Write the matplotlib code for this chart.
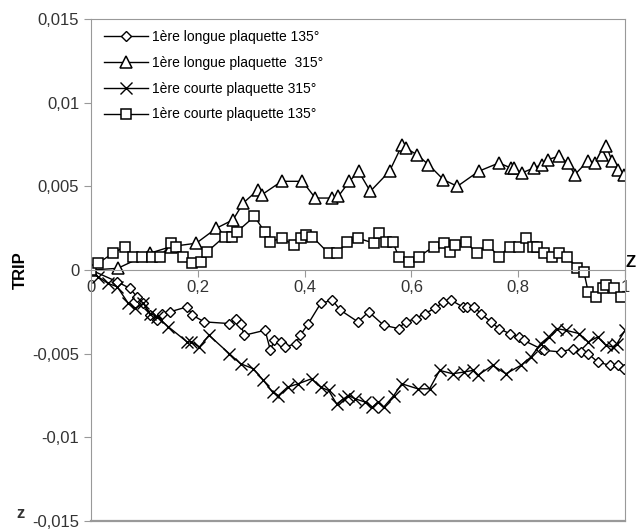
import matplotlib as mpl
mpl.use("Agg")
import matplotlib.pyplot as plt
from matplotlib.ticker import FuncFormatter

mpl.rcParams.update({"font.family": ["Liberation Sans", "DejaVu Sans"], "font.size": 11})

# 1ere longue plaquette 135 (diamonds)
x_l135 = [0, 0.049, 0.073, 0.086, 0.098, 0.111, 0.124, 0.133, 0.148, 0.18, 0.19, 0.212,
          0.259, 0.272, 0.28, 0.287, 0.326, 0.336, 0.343, 0.355, 0.364, 0.383, 0.392,
          0.407, 0.43, 0.452, 0.467, 0.50, 0.52, 0.548, 0.576, 0.589, 0.608, 0.625,
          0.644, 0.66, 0.674, 0.696, 0.705, 0.717, 0.73, 0.749, 0.764, 0.784, 0.801,
          0.81, 0.842, 0.848, 0.88, 0.902, 0.917, 0.931, 0.949, 0.972, 0.987, 0.998]
y_l135 = [0, -0.0007, -0.0011, -0.0016, -0.002, -0.0027, -0.003, -0.0026, -0.0025, -0.0022,
          -0.0027, -0.0031, -0.0032, -0.0029, -0.0032, -0.0039, -0.0036, -0.0048, -0.0042,
          -0.0043, -0.0046, -0.0044, -0.0039, -0.0032, -0.002, -0.0018, -0.0024, -0.0031,
          -0.0025, -0.0033, -0.0035, -0.0031, -0.0029, -0.0026, -0.0023, -0.0019, -0.0018,
          -0.0022, -0.0022, -0.0022, -0.0026, -0.0031, -0.0035, -0.0038, -0.004, -0.0042,
          -0.0047, -0.0048, -0.0049, -0.0047, -0.0049, -0.005, -0.0055, -0.0057, -0.0057,
          -0.0059]

# 1ere longue plaquette 315 (triangles)
x_l315 = [0, 0.05, 0.11, 0.15, 0.197, 0.235, 0.266, 0.285, 0.313, 0.32, 0.357, 0.396,
          0.42, 0.452, 0.463, 0.484, 0.501, 0.523, 0.559, 0.583, 0.589, 0.61, 0.632,
          0.66, 0.686, 0.726, 0.764, 0.786, 0.792, 0.807, 0.829, 0.844, 0.856, 0.876,
          0.893, 0.906, 0.93, 0.944, 0.957, 0.965, 0.976, 0.987, 0.998]
y_l315 = [0, 0.0001, 0.001, 0.0014, 0.0016, 0.0025, 0.003, 0.004, 0.0048, 0.0045,
          0.0053, 0.0053, 0.0043, 0.0043, 0.0044, 0.0053, 0.0059, 0.0047, 0.0059, 0.0075,
          0.0073, 0.0069, 0.0063, 0.0054, 0.005, 0.0059, 0.0064, 0.0061, 0.0061, 0.0058,
          0.0061, 0.0063, 0.0066, 0.0068, 0.0064, 0.0057, 0.0065, 0.0064, 0.0069, 0.0074,
          0.0065, 0.006, 0.0057]

# 1ere courte plaquette 315 (crosses)
x_c315 = [0, 0.013, 0.032, 0.049, 0.07, 0.083, 0.098, 0.111, 0.124, 0.145, 0.18, 0.188,
          0.203, 0.221, 0.259, 0.28, 0.304, 0.323, 0.34, 0.351, 0.368, 0.388, 0.413,
          0.43, 0.445, 0.46, 0.473, 0.482, 0.495, 0.514, 0.527, 0.537, 0.548, 0.567,
          0.582, 0.612, 0.634, 0.653, 0.677, 0.698, 0.715, 0.724, 0.752, 0.777, 0.805,
          0.824, 0.842, 0.857, 0.872, 0.889, 0.914, 0.931, 0.949, 0.964, 0.977, 0.985,
          1.0]
y_c315 = [0, -0.0004, -0.0008, -0.001, -0.002, -0.0023, -0.002, -0.0026, -0.0028, -0.0034,
          -0.0043, -0.0043, -0.0046, -0.0039, -0.005, -0.0056, -0.0059, -0.0066, -0.0073,
          -0.0075, -0.007, -0.0068, -0.0065, -0.007, -0.0072, -0.008, -0.0077, -0.0075,
          -0.0077, -0.0079, -0.0082, -0.0079, -0.0082, -0.0075, -0.0068, -0.0071, -0.0071,
          -0.006, -0.0062, -0.0061, -0.006, -0.0063, -0.0057, -0.0062, -0.0057, -0.0052,
          -0.0044, -0.004, -0.0035, -0.0036, -0.0038, -0.0043, -0.004, -0.0045, -0.0046,
          -0.0044, -0.0036]

# 1ere courte plaquette 135 (squares)
x_c135 = [0, 0.013, 0.041, 0.064, 0.079, 0.096, 0.115, 0.13, 0.15, 0.159, 0.173, 0.19,
          0.206, 0.218, 0.25, 0.264, 0.274, 0.306, 0.325, 0.336, 0.357, 0.38, 0.394,
          0.402, 0.414, 0.445, 0.461, 0.48, 0.50, 0.53, 0.54, 0.552, 0.565, 0.576,
          0.595, 0.614, 0.642, 0.661, 0.672, 0.681, 0.702, 0.722, 0.743, 0.764, 0.784,
          0.801, 0.814, 0.827, 0.836, 0.848, 0.864, 0.876, 0.891, 0.911, 0.923, 0.931,
          0.946, 0.958, 0.964, 0.979, 0.992]
y_c135 = [0, 0.0004, 0.001, 0.0014, 0.0008, 0.0008, 0.0008, 0.0008, 0.0016, 0.0014,
          0.0008, 0.0004, 0.0005, 0.0011, 0.002, 0.002, 0.0023, 0.0032, 0.0023, 0.0017,
          0.0019, 0.0015, 0.0019, 0.0021, 0.002, 0.001, 0.001, 0.0017, 0.0019, 0.0016,
          0.0022, 0.0017, 0.0017, 0.0008, 0.0005, 0.0008, 0.0014, 0.0016, 0.0011, 0.0015,
          0.0017, 0.001, 0.0015, 0.0008, 0.0014, 0.0014, 0.0019, 0.0014, 0.0014, 0.001,
          0.0008, 0.001, 0.0008, 0.0001, -0.0001, -0.0013, -0.0016, -0.0011, -0.0009,
          -0.0011, -0.0016]

xticks = [0, 0.2, 0.4, 0.6, 0.8, 1.0]
yticks = [-0.015, -0.01, -0.005, 0, 0.005, 0.01, 0.015]

def comma(v, pos=None):
  if abs(v) < 1e-12:
    return "0"
  s = ("%.3f" % v).rstrip("0").rstrip(".")
  return s.replace(".", ",")

gray = "#999999"
fig = plt.figure(figsize=(6.38, 5.31), dpi=100)
ax = fig.add_axes([91 / 638, 10 / 531, 534 / 638, 502 / 531])

ax.plot(x_l135, y_l135, color="k", lw=1, marker="D", ms=5.5, mfc="white", mec="k", mew=1,
        label="1ère longue plaquette 135°")
ax.plot(x_l315, y_l315, color="k", lw=1, marker="^", ms=8, mfc="white", mec="k", mew=1.1,
        label="1ère longue plaquette  315°")
ax.plot(x_c315, y_c315, color="k", lw=1, marker="x", ms=8, mec="k", mew=1,
        label="1ère courte plaquette 315°")
ax.plot(x_c135, y_c135, color="k", lw=1, marker="s", ms=7, mfc="white", mec="k", mew=1.1,
        label="1ère courte plaquette 135°")

ax.set_xlim(0, 1)
ax.set_ylim(-0.015, 0.015)
ax.set_xticks(xticks)
ax.set_yticks(yticks)
ax.xaxis.set_major_formatter(FuncFormatter(comma))
ax.yaxis.set_major_formatter(FuncFormatter(comma))

for s in ["left", "right", "top"]:
  ax.spines[s].set_color(gray)
ax.spines["bottom"].set_position(("data", 0))
ax.spines["bottom"].set_color(gray)
ax.axhline(-0.015, color=gray, lw=1.6, clip_on=False)
ax.tick_params(axis="both", colors=gray, labelcolor="#333333", labelsize=12, length=5,
               direction="out")
ax.tick_params(axis="x", pad=2)

ax.set_ylabel("TRIP", fontweight="bold", fontsize=12, labelpad=3)
ax.text(1.0, 0.0, "Z", transform=ax.get_yaxis_transform(), fontsize=12, fontweight="bold",
        ha="left", va="bottom")
ax.text(-0.125, -0.015, "z", fontsize=12, fontweight="bold", transform=ax.get_yaxis_transform(),
        ha="right", va="bottom", color="#333333")

ax.legend(loc="upper left", bbox_to_anchor=(0.0, 1.003), frameon=False, fontsize=10,
          handlelength=3.2, labelspacing=0.85, handletextpad=0.3)

fig.savefig("out.png", dpi=100)
